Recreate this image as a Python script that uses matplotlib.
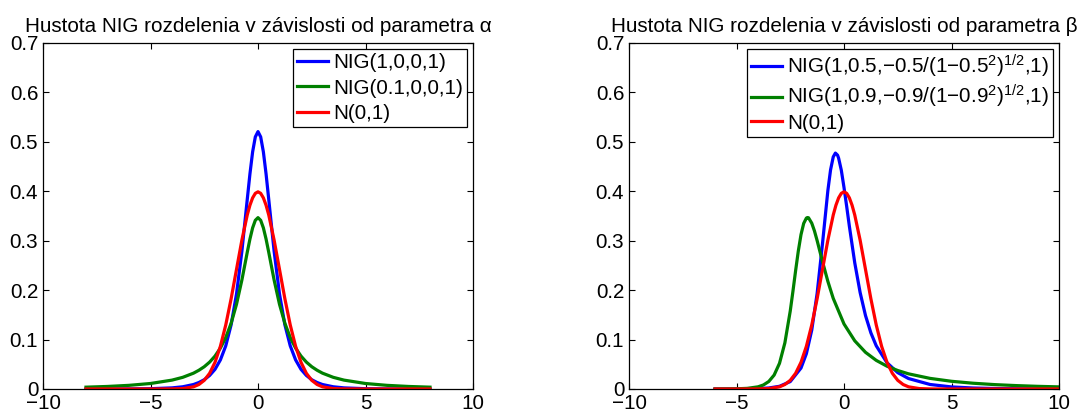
import matplotlib
matplotlib.use('Agg')
import matplotlib.pyplot as plt

plt.rcParams['font.family'] = ['Liberation Sans', 'DejaVu Sans']
plt.rcParams['mathtext.fontset'] = 'custom'
plt.rcParams['mathtext.rm'] = 'Liberation Sans'
plt.rcParams['mathtext.it'] = 'Liberation Sans:italic'
plt.rcParams['axes.unicode_minus'] = True

FS = 14.9

# --- left panel: NIG densities for different alpha, plus N(0,1) ---
x_left = [-8, -7, -6, -5, -4, -3.5, -3, -2.75, -2.5, -2.25, -2, -1.75, -1.5, -1.25, -1,
          -0.75, -0.5, -0.375, -0.25, -0.125, 0, 0.125, 0.25, 0.375, 0.5, 0.75, 1, 1.25,
          1.5, 1.75, 2, 2.25, 2.5, 2.75, 3, 3.5, 4, 5, 6, 7, 8]
nig_a1 = [0.00001, 0.00005, 0.000175, 0.000615, 0.00228, 0.00449, 0.00906, 0.0131,
          0.01875, 0.0274, 0.0398, 0.0588, 0.0873, 0.1299, 0.1922, 0.2785, 0.3835, 0.4352,
          0.4797, 0.5100, 0.5208, 0.5100, 0.4797, 0.4352, 0.3835, 0.2785, 0.1922, 0.1299,
          0.0873, 0.0588, 0.0398, 0.0274, 0.01875, 0.0131, 0.00906, 0.00449, 0.00228,
          0.000615, 0.000175, 0.00005, 0.00001]
nig_a01 = [0.00372, 0.00515, 0.00739, 0.01114, 0.01797, 0.02362, 0.03202, 0.0379, 0.04509,
           0.0544, 0.06661, 0.08269, 0.10414, 0.13298, 0.17137, 0.22040, 0.27651, 0.30340,
           0.32601, 0.34126, 0.34667, 0.34126, 0.32601, 0.30340, 0.27651, 0.22040, 0.17137,
           0.13298, 0.10414, 0.08269, 0.06661, 0.0544, 0.04509, 0.0379, 0.03202, 0.02362,
           0.01797, 0.01114, 0.00739, 0.00515, 0.00372]
norm_left = [0, 0, 0, 0.0000015, 0.00013, 0.00087, 0.00443, 0.00909, 0.01753, 0.03174,
             0.05399, 0.08628, 0.12952, 0.18265, 0.24197, 0.30114, 0.35207, 0.37186, 0.38667,
             0.39583, 0.39894, 0.39583, 0.38667, 0.37186, 0.35207, 0.30114, 0.24197, 0.18265,
             0.12952, 0.08628, 0.05399, 0.03174, 0.01753, 0.00909, 0.00443, 0.00087, 0.00013,
             0.0000015, 0, 0, 0]
labels_left = ['NIG(1,0,0,1)', 'NIG(0.1,0,0,1)', 'N(0,1)']

# --- right panel: NIG densities for different beta, plus N(0,1) ---
x_b05 = [-6, -5, -4, -3.5, -3, -2.5, -2, -1.75, -1.5, -1.25, -1, -0.75, -0.625, -0.5, -0.4,
         -0.3, -0.25, -0.125, 0, 0.125, 0.25, 0.5, 0.75, 1, 1.25, 1.5, 2, 2.5, 3, 4, 5, 6,
         7, 8, 9, 10]
nig_b05 = [0.00002, 0.000125, 0.00079, 0.00205, 0.00548, 0.0150, 0.0424, 0.0714, 0.1192,
           0.1932, 0.2943, 0.4016, 0.4434, 0.4696, 0.4773, 0.4731, 0.4670, 0.4426, 0.4077,
           0.3693, 0.3292, 0.2553, 0.1952, 0.1486, 0.1136, 0.0874, 0.0531, 0.0331, 0.0212,
           0.00916, 0.00421, 0.00202, 0.00100, 0.00050, 0.00026, 0.00014]
x_b09 = [-6, -5, -4.5, -4, -3.75, -3.5, -3.25, -3, -2.75, -2.5, -2.375, -2.25, -2.125, -2,
         -1.875, -1.75, -1.7, -1.65, -1.5, -1.375, -1.25, -1, -0.75, -0.5, 0, 0.5, 1, 1.5,
         2, 2.5, 3, 4, 5, 6, 7, 8, 9, 10]
nig_b09 = [0.00004, 0.000403, 0.00131, 0.00439, 0.00813, 0.01513, 0.02816, 0.05197, 0.09335,
           0.1578, 0.1977, 0.2396, 0.2792, 0.3123, 0.3350, 0.3458, 0.3469, 0.3464, 0.3355,
           0.3199, 0.3003, 0.2577, 0.2177, 0.1833, 0.1316, 0.0975, 0.0742, 0.0579, 0.0461,
           0.0374, 0.0307, 0.0215, 0.0156, 0.0117, 0.0089, 0.0069, 0.0054, 0.0043]
x_norm_r = [-6, -5, -4, -3.5, -3, -2.75, -2.5, -2.25, -2, -1.75, -1.5, -1.25, -1, -0.75,
            -0.5, -0.375, -0.25, -0.125, 0, 0.125, 0.25, 0.375, 0.5, 0.75, 1, 1.25, 1.5,
            1.75, 2, 2.25, 2.5, 2.75, 3, 3.5, 4, 5, 6, 7, 8, 9, 10]
norm_right = [0, 0.0000015, 0.00013, 0.00087, 0.00443, 0.00909, 0.01753, 0.03174, 0.05399,
              0.08628, 0.12952, 0.18265, 0.24197, 0.30114, 0.35207, 0.37186, 0.38667,
              0.39583, 0.39894, 0.39583, 0.38667, 0.37186, 0.35207, 0.30114, 0.24197,
              0.18265, 0.12952, 0.08628, 0.05399, 0.03174, 0.01753, 0.00909, 0.00443,
              0.00087, 0.00013, 0.0000015, 0, 0, 0, 0, 0]
labels_right = ['NIG(1,0.5,\u22120.5/(1\u22120.5$^{2}$)$^{1/2}$,1)',
                'NIG(1,0.9,\u22120.9/(1\u22120.9$^{2}$)$^{1/2}$,1)',
                'N(0,1)']

xticks = [-10, -5, 0, 5, 10]
yticks = [0, 0.1, 0.2, 0.3, 0.4, 0.5, 0.6, 0.7]
ytick_labels = ['0', '0.1', '0.2', '0.3', '0.4', '0.5', '0.6', '0.7']

BLUE = (0, 0, 1)
GREEN = (0, 0.5, 0)
RED = (1, 0, 0)
LW = 2.3

fig = plt.figure(figsize=(10.91, 4.18), dpi=100)
ax1 = fig.add_axes([43 / 1091, 1 - 389 / 418, 430 / 1091, 346 / 418])
ax2 = fig.add_axes([629 / 1091, 1 - 389 / 418, 430 / 1091, 346 / 418])


def style_axes(ax, title):
    ax.set_xlim(-10, 10)
    ax.set_ylim(0, 0.7)
    ax.set_xticks(xticks)
    ax.set_xticklabels(['\u221210', '\u22125', '0', '5', '10'])
    ax.set_yticks(yticks)
    ax.set_yticklabels(ytick_labels)
    ax.tick_params(direction='in', top=True, right=True, length=4, width=0.8,
                   labelsize=FS, pad=3.5)
    for sp in ax.spines.values():
        sp.set_linewidth(0.9)
    ax.set_title(title, fontsize=FS, pad=8)


ax1.plot(x_left, nig_a1, color=BLUE, lw=LW, label=labels_left[0])
ax1.plot(x_left, nig_a01, color=GREEN, lw=LW, label=labels_left[1])
ax1.plot(x_left, norm_left, color=RED, lw=LW, label=labels_left[2])
style_axes(ax1, 'Hustota NIG rozdelenia v závislosti od parametra \u03b1')

ax2.plot(x_b05, nig_b05, color=BLUE, lw=LW, label=labels_right[0])
ax2.plot(x_b09, nig_b09, color=GREEN, lw=LW, label=labels_right[1])
ax2.plot(x_norm_r, norm_right, color=RED, lw=LW, label=labels_right[2])
style_axes(ax2, 'Hustota NIG rozdelenia v závislosti od parametra \u03b2')

for ax, spacing in ((ax1, 0.32), (ax2, 0.15)):
    leg = ax.legend(loc='upper right', fontsize=FS, frameon=True, fancybox=False,
                    framealpha=1, edgecolor='black', borderaxespad=0.28,
                    borderpad=0.2, labelspacing=spacing, handlelength=1.5,
                    handletextpad=0.25)
    leg.get_frame().set_linewidth(0.9)

fig.savefig('out.png', dpi=100)
